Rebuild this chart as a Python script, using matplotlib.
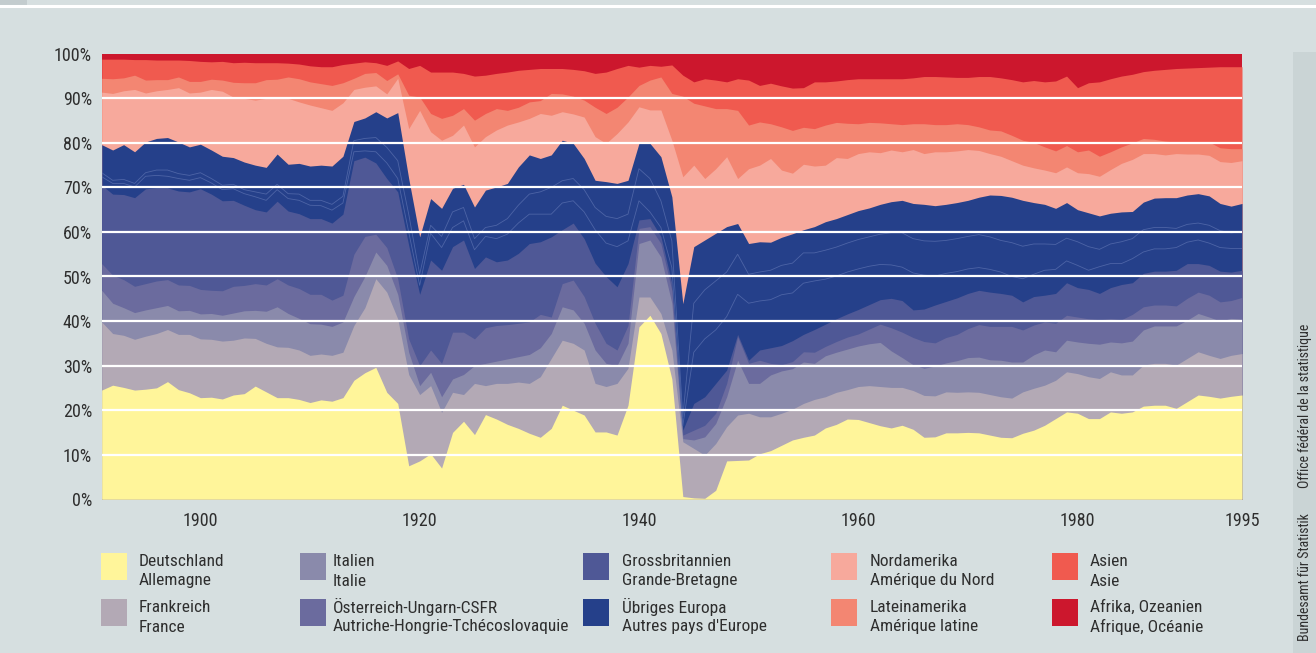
import numpy as np
import matplotlib
matplotlib.use("Agg")
import matplotlib.pyplot as plt
from matplotlib.patches import Rectangle
from matplotlib import font_manager

# the original uses a condensed sans; take the first narrow face that is installed
_have = {f.name for f in font_manager.fontManager.ttflist}
_narrow = [n for n in ['Liberation Sans Narrow', 'DejaVu Sans Condensed', 'Roboto Condensed',
                       'Open Sans Condensed', 'Noto Sans Display'] if n in _have]
plt.rcParams['font.family'] = _narrow + ['Liberation Sans', 'DejaVu Sans']
NARROW = bool(_narrow)

years = np.arange(1891, 1996)

# upper edge of each layer in percent (stacked from the bottom)
top_de = [24.5, 25.6, 25.1, 24.5, 24.7, 25.0, 26.4, 24.6, 23.9, 22.8,
          22.9, 22.5, 23.4, 23.7, 25.4, 24.1, 22.8, 22.8, 22.4, 21.7,
          22.3, 22.0, 22.8, 26.7, 28.4, 29.6, 24.0, 21.5, 7.5, 8.6,
          10.2, 7.0, 15.0, 17.5, 14.5, 19.0, 18.0, 16.8, 15.9, 14.8,
          13.9, 15.9, 21.1, 20.0, 18.9, 15.1, 15.1, 14.4, 21.1, 38.7,
          41.3, 37.2, 27.0, 0.6, 0.3, 0.2, 2.0, 8.6, 8.7, 8.8,
          10.2, 10.9, 12.1, 13.3, 13.9, 14.4, 16.0, 16.8, 18.0, 17.9,
          17.2, 16.5, 16.0, 16.6, 15.7, 13.9, 14.0, 14.9, 14.9, 15.0,
          14.9, 14.4, 13.9, 13.8, 14.8, 15.5, 16.6, 18.1, 19.6, 19.3,
          18.1, 18.1, 19.6, 19.3, 19.6, 20.9, 21.1, 21.1, 20.4, 21.9,
          23.4, 23.1, 22.7, 23.1, 23.4]
top_fr = [39.8, 37.2, 36.8, 35.9, 36.6, 37.2, 38.1, 37.0, 37.0, 36.0,
          35.9, 35.5, 35.7, 36.2, 36.1, 35.0, 34.2, 34.1, 33.5, 32.3,
          32.6, 32.3, 33.0, 39.0, 43.0, 49.5, 46.5, 40.5, 28.0, 23.5,
          25.5, 19.5, 24.0, 23.5, 26.0, 25.5, 26.0, 26.0, 26.3, 26.0,
          27.5, 31.6, 35.7, 35.0, 33.5, 26.0, 25.3, 26.0, 29.4, 45.4,
          45.4, 41.7, 33.5, 12.9, 11.4, 9.9, 12.5, 16.3, 18.9, 19.3,
          18.5, 18.5, 19.3, 20.2, 21.5, 22.4, 23.0, 24.0, 24.6, 25.3,
          25.5, 25.3, 25.1, 25.1, 24.4, 23.3, 23.2, 24.1, 24.0, 24.1,
          24.0, 23.5, 23.0, 22.7, 24.1, 24.9, 25.6, 26.7, 28.6, 28.2,
          27.5, 27.1, 28.6, 27.9, 27.9, 30.1, 30.5, 30.5, 30.1, 31.6,
          33.1, 32.3, 31.6, 32.3, 32.7]
top_it = [46.9, 44.0, 43.0, 41.9, 42.5, 43.0, 43.5, 42.3, 42.4, 41.6,
          41.7, 41.3, 41.8, 42.3, 42.4, 42.2, 43.2, 41.7, 40.6, 39.4,
          39.3, 38.8, 39.8, 45.5, 50.0, 55.5, 52.5, 46.0, 33.0, 25.5,
          28.5, 23.0, 27.0, 28.0, 30.0, 30.5, 31.0, 31.5, 32.0, 32.5,
          34.0, 37.2, 43.2, 42.5, 39.5, 33.5, 30.5, 30.0, 35.0, 57.4,
          58.2, 54.4, 44.0, 13.6, 13.3, 14.0, 17.0, 23.0, 31.2, 26.0,
          26.0, 27.9, 28.8, 29.3, 30.8, 30.5, 32.2, 33.0, 33.7, 34.4,
          34.9, 35.2, 33.3, 31.8, 30.2, 29.4, 29.9, 30.6, 31.1, 31.8,
          31.9, 31.3, 31.2, 30.8, 30.8, 32.4, 33.5, 33.1, 35.7, 35.3,
          35.0, 34.8, 35.3, 35.1, 35.5, 38.0, 38.9, 38.9, 38.9, 40.2,
          41.7, 40.9, 40.0, 40.6, 40.4]
top_at = [52.9, 50.3, 49.3, 47.8, 48.4, 49.0, 49.3, 48.1, 48.0, 47.1,
          46.9, 46.8, 47.8, 48.0, 48.4, 48.1, 49.5, 48.1, 47.3, 46.0,
          46.0, 44.7, 45.8, 55.0, 59.0, 59.5, 56.5, 49.5, 36.0, 30.0,
          33.5, 30.5, 37.5, 37.5, 36.0, 38.5, 39.0, 39.2, 39.5, 39.8,
          41.5, 40.9, 48.4, 49.2, 45.5, 39.5, 35.0, 33.5, 39.0, 60.8,
          61.2, 57.4, 46.9, 14.4, 15.5, 16.6, 19.3, 26.0, 36.5, 30.5,
          31.2, 30.5, 30.2, 30.9, 33.1, 33.0, 34.3, 35.4, 36.4, 37.1,
          38.2, 39.3, 38.5, 37.5, 36.3, 35.4, 35.1, 36.3, 37.0, 38.3,
          39.2, 38.8, 38.8, 38.8, 38.0, 39.1, 39.8, 39.5, 41.3, 40.9,
          40.5, 40.3, 40.5, 40.3, 41.5, 43.2, 43.6, 43.6, 43.4, 45.1,
          46.5, 45.8, 44.3, 44.6, 45.3]
top_gb = [70.5, 68.5, 68.4, 67.7, 69.7, 69.9, 69.9, 69.2, 69.0, 69.7,
          68.5, 67.0, 67.1, 66.0, 65.0, 64.5, 66.9, 64.7, 64.1, 63.0,
          63.0, 62.0, 64.0, 76.0, 76.8, 75.5, 72.0, 69.0, 57.0, 46.0,
          53.7, 51.4, 56.7, 58.2, 51.8, 54.4, 53.3, 53.7, 55.2, 57.4,
          57.8, 58.9, 60.5, 62.0, 58.5, 53.0, 50.0, 47.7, 52.9, 62.7,
          63.0, 59.0, 48.5, 15.5, 21.5, 23.0, 26.0, 29.0, 37.0, 31.2,
          33.5, 34.0, 34.5, 35.6, 37.0, 38.1, 39.3, 40.5, 41.6, 42.6,
          43.7, 44.8, 45.1, 44.6, 42.5, 42.7, 43.6, 44.4, 45.2, 46.2,
          46.9, 46.5, 46.2, 45.8, 44.3, 45.5, 45.8, 46.2, 48.6, 47.5,
          47.1, 46.2, 47.5, 48.2, 48.6, 50.7, 51.2, 51.2, 51.4, 52.9,
          52.9, 52.5, 51.2, 51.0, 51.4]
# "Übriges Europa" is drawn in three slices separated by thin lines
top_eu1 = [72.4, 70.9, 70.9, 70.1, 72.5, 72.7, 72.5, 72.0, 71.6, 72.2,
           71.0, 69.5, 69.7, 68.6, 67.9, 67.1, 69.5, 67.5, 67.1, 66.0,
           65.9, 64.9, 66.5, 78.0, 78.2, 78.0, 75.5, 72.0, 60.0, 48.0,
           59.7, 56.5, 61.0, 62.5, 56.0, 59.0, 58.5, 59.5, 62.0, 64.0,
           64.0, 64.0, 66.5, 67.0, 64.5, 60.5, 57.5, 56.7, 58.0, 67.0,
           64.5, 61.0, 52.0, 16.5, 33.0, 36.0, 38.0, 41.0, 46.0, 44.0,
           44.5, 44.8, 45.9, 46.3, 48.5, 49.0, 49.4, 50.1, 51.0, 51.7,
           52.3, 52.7, 52.6, 52.1, 50.8, 50.3, 50.1, 50.7, 51.1, 51.7,
           52.0, 51.6, 51.0, 50.0, 49.5, 50.5, 51.4, 51.6, 53.5, 52.5,
           51.4, 52.2, 52.9, 52.9, 54.0, 55.5, 56.2, 56.2, 56.5, 57.7,
           58.2, 57.5, 56.5, 56.3, 56.3]
top_eu2 = [73.3, 71.6, 71.8, 70.9, 73.3, 73.9, 73.9, 73.1, 72.7, 73.3,
           72.0, 70.5, 70.7, 69.5, 69.0, 68.5, 70.7, 68.6, 68.5, 67.1,
           67.1, 66.2, 68.0, 80.5, 81.0, 81.2, 79.0, 76.0, 64.0, 50.5,
           61.5, 59.0, 64.5, 65.5, 58.5, 61.0, 61.5, 63.0, 66.0, 68.5,
           69.0, 70.0, 71.5, 72.0, 69.5, 65.5, 63.5, 63.0, 64.0, 74.2,
           72.0, 67.0, 58.0, 18.5, 44.0, 47.0, 49.0, 51.0, 55.0, 50.5,
           51.0, 51.4, 52.5, 53.0, 55.3, 55.3, 55.9, 56.6, 57.5, 58.3,
           58.9, 59.5, 59.8, 59.8, 58.5, 58.0, 57.9, 58.1, 58.5, 59.0,
           59.4, 58.9, 58.1, 57.6, 56.8, 57.3, 57.3, 57.2, 58.6, 57.8,
           56.7, 56.1, 57.3, 57.8, 58.5, 60.5, 61.0, 61.0, 60.8, 61.7,
           62.0, 61.5, 60.3, 59.8, 60.0]
top_eu = [79.6, 78.4, 79.6, 78.0, 80.2, 81.0, 81.2, 80.2, 79.1, 79.7,
          78.4, 77.0, 76.7, 75.7, 75.0, 74.5, 77.5, 75.2, 75.4, 74.8,
          75.0, 74.8, 77.0, 84.8, 85.6, 87.0, 85.6, 86.8, 72.0, 58.9,
          67.5, 65.3, 69.8, 70.7, 65.6, 69.4, 70.1, 70.9, 74.6, 77.3,
          76.5, 77.3, 80.6, 79.9, 76.5, 71.6, 71.3, 70.9, 71.6, 79.9,
          79.9, 76.9, 67.9, 43.9, 56.7, 58.2, 59.7, 61.2, 61.9, 57.4,
          57.8, 57.7, 58.8, 59.6, 60.5, 61.2, 62.3, 63.0, 63.9, 64.8,
          65.4, 66.2, 66.8, 67.1, 66.4, 66.2, 65.9, 66.2, 66.6, 67.1,
          67.8, 68.3, 68.2, 67.8, 67.1, 66.6, 66.2, 65.3, 66.6, 65.0,
          64.3, 63.6, 64.2, 64.5, 64.6, 66.7, 67.6, 67.7, 67.7, 68.3,
          68.6, 68.1, 66.4, 65.8, 66.4]
top_na = [91.4, 91.1, 91.7, 92.0, 91.2, 91.7, 92.0, 92.4, 91.2, 91.4,
          92.0, 91.6, 90.3, 90.0, 89.6, 90.0, 90.1, 90.0, 89.2, 88.5,
          87.9, 87.3, 89.0, 92.0, 92.5, 92.8, 91.0, 94.5, 83.2, 87.3,
          82.5, 80.6, 81.7, 84.0, 79.1, 81.4, 82.9, 84.0, 84.7, 85.5,
          86.6, 86.2, 87.0, 86.5, 85.8, 81.4, 79.9, 82.1, 84.7, 88.1,
          87.4, 87.4, 80.6, 72.4, 75.0, 72.0, 74.2, 76.9, 72.0, 74.2,
          75.0, 76.5, 73.9, 73.2, 75.2, 74.8, 75.0, 76.7, 76.5, 77.6,
          78.0, 77.8, 78.4, 78.0, 78.5, 77.6, 78.0, 78.0, 78.2, 78.5,
          78.3, 77.6, 77.0, 76.0, 75.0, 74.4, 73.9, 73.3, 74.6, 73.3,
          73.1, 72.5, 74.0, 75.4, 76.3, 77.6, 77.6, 77.3, 77.6, 77.5,
          77.5, 77.2, 75.8, 75.6, 76.0]
top_la = [94.5, 94.4, 94.6, 95.2, 94.1, 94.2, 94.2, 94.8, 93.8, 93.8,
          94.3, 94.1, 93.6, 93.5, 93.5, 94.2, 94.3, 94.8, 94.4, 93.7,
          93.3, 92.9, 93.5, 94.5, 95.6, 95.8, 94.0, 95.5, 90.7, 90.3,
          86.6, 85.5, 86.2, 87.7, 85.1, 86.6, 87.7, 87.3, 88.0, 89.2,
          89.5, 91.1, 91.0, 90.5, 89.6, 88.0, 86.6, 88.0, 90.3, 92.9,
          94.1, 94.8, 91.1, 90.5, 88.9, 88.3, 87.7, 87.7, 87.3, 84.0,
          84.7, 84.3, 83.6, 82.8, 83.5, 83.2, 84.0, 84.6, 84.4, 84.3,
          84.6, 84.5, 84.3, 84.1, 84.3, 84.3, 84.1, 84.1, 84.3, 84.1,
          83.6, 82.9, 82.7, 81.7, 80.6, 80.1, 79.1, 78.2, 79.4, 78.0,
          78.4, 77.0, 78.0, 79.1, 80.0, 81.0, 80.8, 80.4, 80.2, 80.2,
          80.2, 80.2, 78.9, 78.7, 78.7]
top_as = [98.8, 98.8, 98.8, 98.7, 98.7, 98.6, 98.6, 98.6, 98.5, 98.3,
          98.2, 98.3, 98.0, 98.1, 98.0, 98.0, 98.0, 97.9, 97.7, 97.3,
          97.1, 97.1, 97.6, 97.9, 98.2, 98.0, 97.4, 98.4, 96.7, 97.4,
          95.9, 95.9, 95.9, 95.6, 95.0, 95.2, 95.6, 95.9, 96.3, 96.5,
          96.7, 96.7, 96.7, 96.5, 96.2, 95.6, 95.9, 96.7, 97.4, 97.0,
          97.4, 97.2, 97.5, 95.2, 93.7, 94.4, 94.1, 93.7, 94.4, 94.1,
          92.9, 93.4, 92.8, 92.3, 92.4, 93.7, 93.7, 93.9, 94.2, 94.4,
          94.4, 94.4, 94.4, 94.4, 94.6, 94.9, 94.9, 94.8, 94.7, 94.7,
          94.9, 94.9, 94.6, 94.2, 93.7, 94.0, 93.7, 93.9, 95.0, 92.4,
          93.5, 93.7, 94.4, 95.0, 95.4, 96.0, 96.3, 96.5, 96.7, 96.8,
          96.9, 97.0, 97.1, 97.1, 97.1]
top_af = [100.0] * len(years)

labels_de = ['Deutschland', 'Frankreich', 'Italien', 'Österreich-Ungarn-CSFR',
             'Grossbritannien', 'Übriges Europa', 'Nordamerika', 'Lateinamerika',
             'Asien', 'Afrika, Ozeanien']
labels_fr = ['Allemagne', 'France', 'Italie', 'Autriche-Hongrie-Tchécoslovaquie',
             'Grande-Bretagne', "Autres pays d'Europe", 'Amérique du Nord',
             'Amérique latine', 'Asie', 'Afrique, Océanie']
colors = ['#fff59a', '#b3a9b5', '#8a8aab', '#6b6b9e', '#4f5896',
          '#25408a', '#f7a99c', '#f38672', '#f05a4f', '#cc172d']

BG = '#d6dfe0'
TXT = '#2e2e2e'
W, H = 1316, 653
fig = plt.figure(figsize=(W / 100, H / 100), dpi=100, facecolor=BG)


def fx(x):
    return x / W


def fy(y):
    return 1 - y / H


ax = fig.add_axes([fx(101.7), fy(499.2), fx(1242) - fx(101.7), fy(53.8) - fy(499.2)])
ax.set_facecolor(BG)

# paint from the top layer down, each from zero, so no seams show
layers = [(top_af, 9), (top_as, 8), (top_la, 7), (top_na, 6), (top_eu, 5),
          (top_gb, 4), (top_at, 3), (top_it, 2), (top_fr, 1), (top_de, 0)]
for tops, ci in layers:
    ax.fill_between(years, 0, tops, color=colors[ci], linewidth=0, zorder=1)
for tops in (top_eu1, top_eu2):
    ax.plot(years, tops, color='#4d64a6', lw=0.6, zorder=2)

for v in range(10, 100, 10):
    ax.axhline(v, color='white', lw=1.6, zorder=3)

ax.set_xlim(1891, 1995)
ax.set_ylim(0, 100)
for s in ax.spines.values():
    s.set_visible(False)
fs = 13 if NARROW else 12
ax.set_yticks(range(0, 101, 10))
ax.set_yticklabels([f'{v}%' for v in range(0, 101, 10)])
ax.set_xticks([1900, 1920, 1940, 1960, 1980, 1995])
ax.set_xticklabels(['1900', '1920', '1940', '1960', '1980', '1995'])
ax.tick_params(length=0, labelsize=fs, colors=TXT)
ax.tick_params(axis='y', pad=7)
ax.tick_params(axis='x', pad=9)

# legend, laid out like the original: five columns, two rows
col_sq = [101, 300, 583, 831, 1052]
col_tx = [139, 333, 622, 870, 1090]
row_sq = [553, 599]
lfs = 12.5 if NARROW else 11
for i in range(10):
    c, r = divmod(i, 2)
    fig.add_artist(Rectangle((fx(col_sq[c]), fy(row_sq[r] + 27)), fx(26), 27 / H,
                             transform=fig.transFigure, color=colors[i], lw=0))
    fig.text(fx(col_tx[c]), fy(row_sq[r] + 8), labels_de[i], fontsize=lfs,
             color=TXT, va='center', ha='left')
    fig.text(fx(col_tx[c]), fy(row_sq[r] + 28), labels_fr[i], fontsize=lfs,
             color=TXT, va='center', ha='left')

# frame details: white rule on top, side strip with the office names
fig.add_artist(plt.Line2D([0, 1], [fy(6), fy(6)], transform=fig.transFigure,
                          color='white', lw=2.2))
fig.add_artist(Rectangle((0, fy(4.5)), fx(27), 4.5 / H, transform=fig.transFigure,
                         color='#c3ccce', lw=0))
fig.add_artist(Rectangle((fx(1293), 0), 1 - fx(1293), fy(52), transform=fig.transFigure,
                         color='#cad4d5', lw=0, zorder=0))
sfs = 10 if NARROW else 9
fig.text(fx(1305), fy(641), 'Bundesamt für Statistik', rotation=90, fontsize=sfs,
         color=TXT, ha='center', va='bottom')
fig.text(fx(1305), fy(488), 'Office fédéral de la statistique', rotation=90,
         fontsize=sfs, color=TXT, ha='center', va='bottom')

fig.savefig('out.png', dpi=100, facecolor=BG)
